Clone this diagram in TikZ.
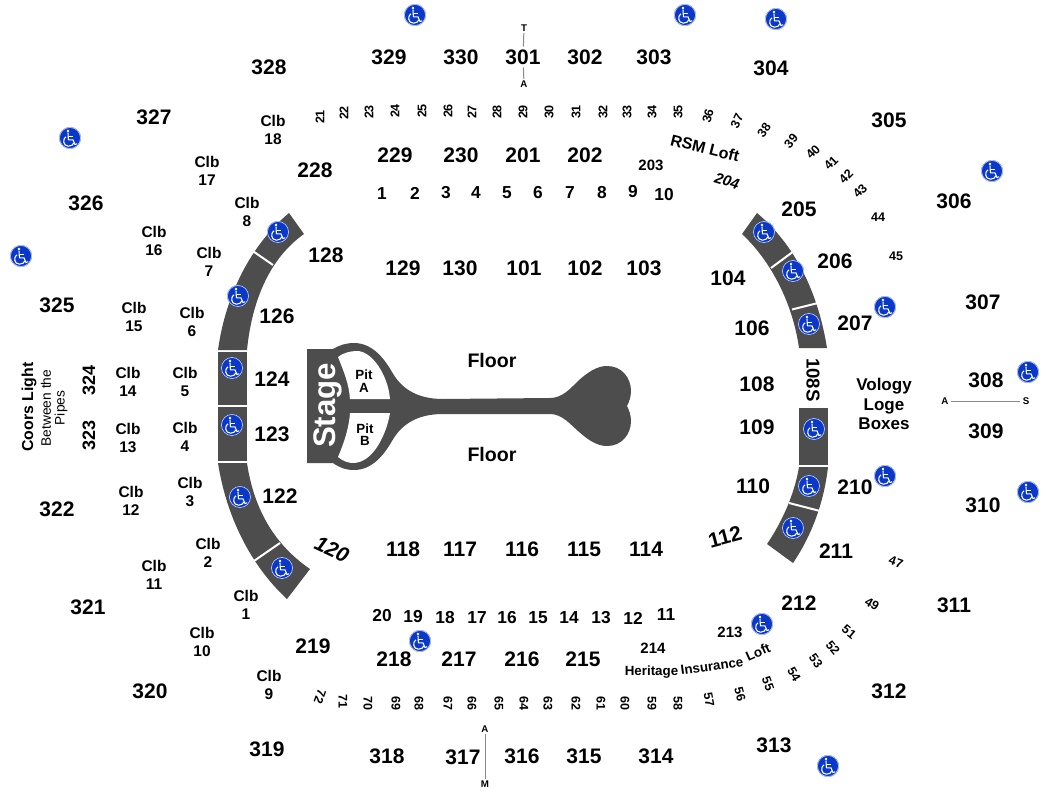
\documentclass[tikz,border=0pt]{standalone}
\usepackage{fontspec}
\setmainfont{Liberation Sans}
\definecolor{band}{HTML}{4D4D4D}
\definecolor{wcblue}{HTML}{0A38C8}
\definecolor{axis}{HTML}{8A8A8A}
\newcommand{\fsz}[1]{\fontsize{#1}{#1}\selectfont}
\tikzset{
  base/.style={inner sep=0pt,text=black},
  seclab/.style={base,inner sep=2pt,font=\bfseries\fsz{15.75}},
  midlab/.style={base,font=\bfseries\fsz{13.5}},
  rowlab/.style={base,font=\bfseries\fsz{13}},
  smlab/.style={base,font=\bfseries\fsz{11.25}},
  clblab/.style={base,align=center,font=\bfseries\fontsize{11.6}{13.5}\selectfont},
  seatlab/.style={base,font=\bfseries\fsz{9.4}},
  axislab/.style={base,font=\bfseries\fsz{7.3}},
  axisline/.style={draw=axis,line width=0.75pt},
  gap/.style={draw=white,line width=1.5pt},
  bandfill/.style={fill=band,draw=none},
  wheelchair/.pic={
    \fill[wcblue] (0,0) circle (8.2pt);
    \draw[white!75!wcblue,line width=0.5pt] (0,0) circle (7.9pt);
    \fill[white] (-2,-7) circle (1pt);
    \draw[white,line width=0.8pt,line join=round,line cap=round]
      (-2,-5) -- (-1.6,1.8) -- (3,1.8) -- (5,6.6) -- (6.8,5.8);
    \draw[white,line width=0.7pt] (-1.8,-2) -- (2.8,-2);
    \draw[white,line width=0.8pt]
      (-4,-1.2) .. controls (-7.5,0.5) and (-7.4,8.2) .. (-1.4,8.2)
      .. controls (1.5,8.2) and (3.4,6.6) .. (3.8,4.8);
  }
}
\begin{document}
\begin{tikzpicture}[x=0.75pt,y=-0.75pt]
\useasboundingbox (0,0) rectangle (1050,800);

% left band
\fill[bandfill] (289,213) .. controls (253,243) and (226,292) .. (218,350) -- (247,350)
  .. controls (252,300) and (270,258) .. (304,234) -- cycle;
\fill[bandfill] (218,352) rectangle (247,405);
\fill[bandfill] (218,407) rectangle (247,461);
\fill[bandfill] (218,463) .. controls (226,515) and (250,565) .. (287,599) -- (310,569)
  .. controls (275,545) and (254,510) .. (247,463) -- cycle;
\draw[gap] (252,250.5) -- (273,265);
\draw[gap] (251,563) -- (280,543);
% right band
\fill[bandfill] (757,213) .. controls (795,245) and (818,292) .. (827,348) -- (799,348)
  .. controls (793,305) and (772,262) .. (742,234) -- cycle;
\fill[bandfill] (799,408) rectangle (828,465);
\fill[bandfill] (799,467) -- (828,467) .. controls (824,502) and (812,535) .. (793,563)
  -- (767,544) .. controls (780,525) and (794,497) .. (799,467) -- cycle;
\draw[gap] (794,251) -- (771,268);
\draw[gap] (818,303) -- (792,309.5);
\draw[gap] (789,503) -- (820,511);

% stage
\fill[bandfill] (307,349) -- (333,349) .. controls (340,345) and (346,343) .. (354,343)
  .. controls (372,343) and (384,358) .. (392,372)
  .. controls (400,386) and (414,399) .. (443,399) -- (550,398)
  .. controls (562,398) and (570,389) .. (578,381)
  .. controls (588,372) and (597,366) .. (607,366)
  .. controls (622,366) and (631,378) .. (631,391)
  .. controls (631,397) and (629,402) .. (627,406)
  .. controls (629,410) and (631,415) .. (631,421)
  .. controls (631,434) and (622,446) .. (607,446)
  .. controls (597,446) and (588,440) .. (578,431)
  .. controls (570,424) and (562,414) .. (550,414) -- (443,414)
  .. controls (414,414) and (400,427) .. (392,441)
  .. controls (384,455) and (372,470) .. (354,470)
  .. controls (346,470) and (340,468) .. (333,463) -- (307,463) -- cycle;
\fill[white] (338,357) .. controls (343,353) and (350,351) .. (357,351)
  .. controls (372,351) and (388,375) .. (390,399) -- (350,399)
  .. controls (349,384) and (344,372) .. (338,357) -- cycle;
\fill[white] (350,413) -- (390,413) .. controls (387,432) and (374,463) .. (353,463)
  .. controls (348,463) and (343,461) .. (338,457)
  .. controls (344,443) and (349,428) .. (350,413) -- cycle;
\node[base,rotate=90,text=white,font=\bfseries\fsz{23.4}] (stage) at (328,405.5) {Stage};
\node[base,font=\bfseries\fsz{10}] (pitAa) at (364,375) {Pit};
\node[base,font=\bfseries\fsz{10}] (pitAb) at (364,388) {A};
\node[base,font=\bfseries\fsz{10}] (pitBa) at (365,429) {Pit};
\node[base,font=\bfseries\fsz{10}] (pitBb) at (365,441) {B};

% accessibility icons
\foreach \x/\y in {278/232,238/296,232/368,232/425,240/497,282/568,
  764/232,793/271,809/324,814/429,809/486,793/528,
  415/15,685/15,776/19,70/138,992/171,21/256,885/307,1028/372,885/476,1028/492,
  762/624,420/641,828/766}
  \pic at (\x,\y) {wheelchair};

% large section labels
\foreach \x/\y/\n in {
  269/67/328,389/57/329,461/57/330,523/57/301,585/57/302,654/57/303,771/68/304,
  889/120/305,954/201/306,983/302/307,986/380/308,986/431/309,983/505/310,
  954/605/311,889/691/312,774/745/313,656/756/314,584/756/315,522/756/316,
  463/757/317,387/756/318,267/749/319,150/691/320,88/607/321,57/509/322,
  57/305/325,86/203/326,154/117/327,
  395/155/229,461/155/230,523/155/201,585/155/202,315/170/228,
  799/209/205,835/261/206,855/323/207,855/487/210,836/551/211,799/603/212,
  313/646/219,394/659/218,459/659/217,522/659/216,583/659/215,
  326/255/128,403/268/129,460/268/130,524/268/101,585/268/102,644/268/103,
  728/278/104,752/328/106,757/384/108,757/427/109,753/486/110,
  277/316/126,272/379/124,272/434/123,280/496/122,
  403/549/118,460/549/117,522/549/116,584/549/115,646/549/114}
  \node[seclab] (s\n) at (\x,\y) {\n};
\node[seclab,rotate=15] (s112) at (725,537) {112};
\node[seclab,rotate=-25,font=\bfseries\itshape\fsz{15.75}] (s120) at (332,549) {120};
\node[midlab,rotate=90] (s324) at (89,380) {324};
\node[midlab,rotate=90] (s323) at (89,435) {323};
\node[midlab,rotate=-90,font=\bfseries\fsz{14}] (s108S) at (813,380) {108S};

% row numbers
\foreach \x/\y/\n in {382/194/1,415/193/2,446/193/3,476/193/4,507/193/5,538/193/6,
  570/193/7,602/193/8,633/192/9,664/195/10,
  382/616/20,413/617/19,445/618/18,477/618/17,507/618/16,538/618/15,569/618/14,
  601/618/13,633/618/12,666/615/11}
  \node[rowlab] (n\n) at (\x,\y) {\n};
\foreach \x/\y/\n in {651/165/203,653/648/214,730/632/213}
  \node[smlab] (s\n) at (\x,\y) {\n};
\node[smlab,rotate=-17,font=\bfseries\itshape\fsz{11.25}] (s204) at (727,181) {204};
\node[smlab,rotate=-14,font=\bfseries\fsz{12}] (rsm) at (705,148) {RSM Loft};
\node[seatlab,font=\bfseries\fsz{10}] (hera) at (651.5,672) {Heritage};
\node[seatlab,font=\bfseries\fsz{10},rotate=8] (herb) at (712,666) {Insurance};
\node[seatlab,font=\bfseries\fsz{10},rotate=24] (herc) at (758,652) {Loft};

% Clb labels
\foreach \x/\y/\n in {273/130/18,207/171/17,247/212/8,154/241/16,209/262/7,
  134/316.5/15,192/322/6,128/382/14,185/382/5,128/437.5/13,185/437/4,
  131/501/12,190/492/3,154/575/11,208/553/2,246/605/1,202/642/10,269/685/9}
  \node[clblab] (c\n) at (\x,\y) {Clb\\\n};

% seat rows
\foreach \x/\y/\n/\r in {320/117/21/90,344/113/22/90,369/112/23/90,395/111/24/90,
  422/111/25/90,448/111/26/90,472/112/27/90,497/112/28/90,523/112/29/90,
  549/112/30/90,576/112/31/90,603/112/32/90,627/112/33/90,652/112/34/90,
  678/112/35/90,708/116/36/75,737/121/37/65,764/130/38/55,791/141/39/50,
  813/152/40/45,831/163/41/45,846/176/42/45,860/191/43/45,878/217/44/0,896/256/45/0,
  896/562/47/-20,872/604/49/-30,849/632/51/-40,833/648/52/-50,816/661/53/-55,
  794/674/54/-60,768/684/55/-70,740/694/56/-75,709/700/57/-80,678/703/58/-90,
  652/703/59/-90,625/703/60/-90,601/703/61/-90,576/703/62/-90,548/703/63/-90,
  524/703/64/-90,499/703/65/-90,472/703/66/-90,448/703/67/-90,419/703/68/-90,
  396/703/69/-90,368/703/70/-90,343/701/71/-90,320/697/72/-110}
  \node[seatlab,rotate=\r] (r\n) at (\x,\y) {\n};

% text blocks
\node[base,font=\bfseries\fsz{14.7}] (floorA) at (492,360) {Floor};
\node[base,font=\bfseries\fsz{14.7}] (floorB) at (492,454) {Floor};
\node[base,font=\bfseries\fsz{12.75}] (volA) at (884,386) {Vology};
\node[base,font=\bfseries\fsz{12.75}] (volB) at (884,406) {Loge};
\node[base,font=\bfseries\fsz{12.75}] (volC) at (884,424) {Boxes};
\node[base,rotate=90,font=\bfseries\fsz{11.9}] (coorsA) at (29,407) {Coors Light};
\node[base,rotate=90,font=\fsz{10.3}] (coorsB) at (46,408) {Between the};
\node[base,rotate=90,font=\fsz{10.3}] (coorsC) at (61,408) {Pipes};

% aisle markers
\node[axislab,inner sep=1pt] (topT) at (524,28) {T};
\node[axislab,inner sep=1pt] (topA) at (524,84) {A};
\draw[axisline] (topT) -- (s301);
\draw[axisline] (s301) -- (topA);
\node[axislab,inner sep=1pt] (botA) at (485,729) {A};
\node[axislab,inner sep=1pt] (botM) at (485,784) {M};
\draw[axisline] (botA) -- (botM);
\node[axislab,inner sep=1.5pt] (rightA) at (945,401) {A};
\node[axislab,inner sep=1.5pt] (rightS) at (1026,401) {S};
\draw[axisline] (rightA) -- (rightS);
\end{tikzpicture}
\end{document}
